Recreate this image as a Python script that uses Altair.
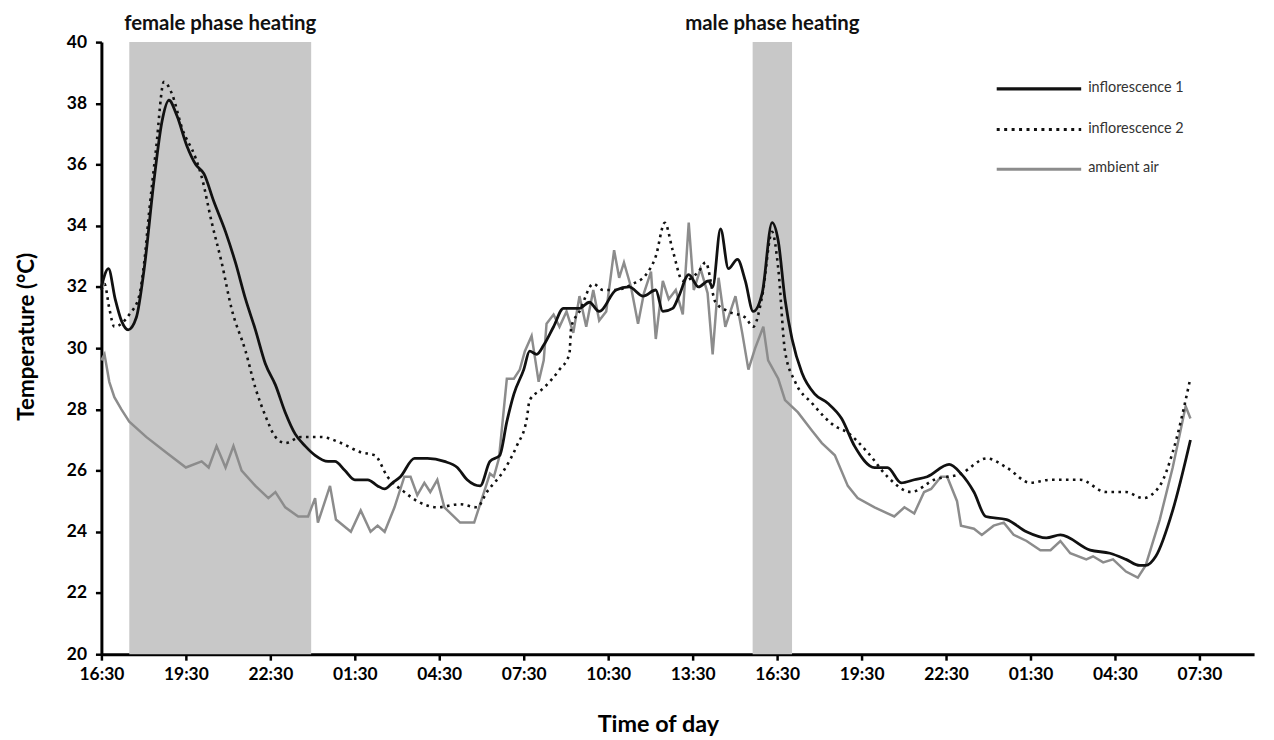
import altair as alt
import pandas as pd

# ---- data (hours since 16:30 on day 1, temperature in °C) ----
tick_labels = ["16:30", "19:30", "22:30", "01:30", "04:30", "07:30", "10:30",
               "13:30", "16:30", "19:30", "22:30", "01:30", "04:30", "07:30"]
tick_hours = [0, 3, 6, 9, 12, 15, 18, 21, 24, 27, 30, 33, 36, 39]

infl1_h = [0.0, 0.25, 0.49, 0.71, 0.95, 1.24, 1.52, 1.87, 2.15, 2.40, 2.68, 3.04, 3.35, 3.64,
           3.99, 4.41, 4.76, 5.12, 5.47, 5.82, 6.18, 6.53, 6.88, 7.24, 7.59, 8.05, 8.29, 8.65,
           9.0, 9.46, 9.81, 10.06, 10.34, 10.62, 11.12, 11.58, 12.18, 12.64, 12.99, 13.45, 13.8,
           14.15, 14.4, 14.65, 15.0, 15.21, 15.46, 15.71, 16.06, 16.41, 16.98, 17.33, 17.68,
           18.28, 18.74, 19.24, 19.69, 19.94, 20.29, 20.51, 20.86, 21.21, 21.56, 21.71, 21.99,
           22.27, 22.59, 22.87, 23.15, 23.47, 23.82, 24.04, 24.28, 24.53, 24.88, 25.34, 25.8,
           26.29, 26.75, 27.46, 27.92, 28.41, 28.87, 29.33, 30.11, 30.53, 30.99, 31.41, 32.15,
           32.86, 33.56, 34.06, 35.12, 35.82, 36.39, 36.88, 37.09, 37.45, 38.05, 38.68]
infl1_t = [32.0, 32.6, 31.6, 30.9, 30.6, 31.0, 32.6, 35.5, 37.4, 38.1, 37.6, 36.6, 36.0, 35.7,
           34.8, 33.8, 32.8, 31.6, 30.6, 29.5, 28.8, 27.9, 27.2, 26.8, 26.5, 26.3, 26.3, 26.0,
           25.7, 25.7, 25.5, 25.4, 25.6, 25.8, 26.4, 26.4, 26.3, 26.1, 25.7, 25.5, 26.3,
           26.5, 27.6, 28.5, 29.3, 29.9, 29.8, 30.1, 30.7, 31.3, 31.3, 31.5, 31.2,
           31.9, 32.0, 31.7, 31.9, 31.2, 31.3, 31.7, 32.4, 32.0, 32.2, 32.0, 33.9,
           32.6, 32.9, 32.2, 31.2, 31.8, 34.1, 33.5, 31.6, 30.3, 29.2, 28.5, 28.2,
           27.7, 26.8, 26.1, 26.1, 25.6, 25.7, 25.8, 26.2, 25.9, 25.3, 24.5, 24.4,
           24.0, 23.8, 23.9, 23.4, 23.3, 23.1, 22.9, 22.9, 23.2, 24.7, 27.0]

infl2_h = [0.0, 0.11, 0.28, 0.46, 0.71, 0.99, 1.34, 1.52, 1.69, 1.94, 2.22, 2.51, 2.86, 3.35,
           3.56, 3.92, 4.27, 4.62, 5.12, 5.47, 5.82, 6.18, 6.53, 7.09, 7.8, 8.51, 9.21, 9.71,
           10.16, 10.76, 11.22, 11.93, 12.74, 13.34, 13.69, 14.29, 14.75, 15.11, 15.21, 15.71,
           16.27, 16.62, 16.69, 16.98, 17.47, 17.82, 18.18, 18.88, 19.34, 19.69, 20.01, 20.29,
           20.65, 21.21, 21.46, 21.81, 22.27, 22.87, 23.15, 23.47, 23.82, 24.04, 24.28, 24.64,
           25.24, 26.15, 26.4, 27.21, 27.92, 28.76, 29.58, 30.53, 31.45, 32.15, 33.0, 33.71,
           34.76, 35.68, 36.39, 36.99, 37.59, 38.05, 38.65]
infl2_t = [31.9, 32.1, 31.3, 30.7, 30.8, 31.1, 31.7, 32.8, 34.4, 36.5, 38.7, 38.3, 37.2, 36.2,
           35.6, 34.1, 32.8, 31.3, 29.9, 28.7, 27.8, 27.1, 26.9, 27.1, 27.1, 26.9, 26.6, 26.5,
           25.8, 25.3, 25.0, 24.8, 24.9, 24.8, 25.3, 26.0, 26.8, 27.7, 28.3, 28.7,
           29.3, 29.8, 30.7, 31.2, 32.1, 31.9, 31.9, 32.1, 32.4, 33.0, 34.1, 33.2,
           32.2, 32.5, 32.8, 31.5, 31.2, 31.0, 30.7, 31.7, 33.8, 32.6, 29.9, 28.9,
           28.2, 27.4, 27.3, 26.6, 25.8, 25.3, 25.7, 25.9, 26.4, 26.1, 25.6, 25.7,
           25.7, 25.3, 25.3, 25.1, 25.5, 26.6, 28.9]

air_h = [0.0, 0.11, 0.28, 0.46, 0.71, 0.99, 1.59, 2.29, 3.0, 3.56, 3.81, 4.09, 4.41, 4.69,
         4.98, 5.47, 5.93, 6.18, 6.53, 6.99, 7.34, 7.59, 7.69, 8.12, 8.33, 8.86, 9.21, 9.56,
         9.81, 10.06, 10.41, 10.76, 10.98, 11.22, 11.47, 11.68, 11.93, 12.18, 12.74, 13.24,
         13.59, 13.8, 13.94, 14.12, 14.4, 14.65, 14.86, 15.04, 15.28, 15.53, 15.71, 15.81,
         16.06, 16.27, 16.52, 16.76, 16.98, 17.22, 17.47, 17.68, 17.93, 18.21, 18.39, 18.56,
         18.81, 19.06, 19.27, 19.52, 19.69, 19.94, 20.15, 20.4, 20.65, 20.86, 21.04, 21.28,
         21.53, 21.71, 21.92, 22.16, 22.52, 22.76, 22.98, 23.22, 23.51, 23.68, 24.04, 24.28,
         24.74, 25.24, 25.59, 26.05, 26.51, 26.86, 27.46, 27.92, 28.16, 28.52, 28.87, 29.22,
         29.47, 29.82, 30.04, 30.39, 30.53, 30.99, 31.27, 31.69, 32.05, 32.4, 32.86, 33.35,
         33.71, 34.06, 34.41, 34.98, 35.22, 35.58, 35.93, 36.39, 36.81, 37.09, 37.59, 38.05,
         38.51, 38.68]
air_t = [29.6, 29.8, 28.9, 28.4, 28.0, 27.6, 27.1, 26.6, 26.1, 26.3, 26.1, 26.8, 26.1, 26.8,
         26.0, 25.5, 25.1, 25.3, 24.8, 24.5, 24.5, 25.1, 24.3, 25.5, 24.4, 24.0, 24.7, 24.0,
         24.2, 24.0, 24.8, 25.8, 25.8, 25.2, 25.6, 25.3, 25.7, 24.8, 24.3, 24.3,
         25.3, 25.9, 25.8, 26.4, 29.0, 29.0, 29.3, 29.9, 30.4, 28.9, 29.6, 30.8,
         31.1, 30.7, 31.2, 30.5, 31.7, 30.7, 31.9, 30.9, 31.2, 33.2, 32.3, 32.8,
         32.0, 30.8, 31.8, 32.5, 30.3, 32.2, 31.6, 31.9, 31.1, 34.1, 31.9, 32.6,
         31.8, 29.8, 32.3, 30.7, 31.7, 30.5, 29.3, 30.0, 30.7, 29.6, 29.0, 28.3,
         27.9, 27.3, 26.9, 26.5, 25.5, 25.1, 24.8, 24.6, 24.5, 24.8, 24.6, 25.3,
         25.4, 25.8, 25.8, 25.0, 24.2, 24.1, 23.9, 24.2, 24.3, 23.9, 23.7, 23.4,
         23.4, 23.7, 23.3, 23.1, 23.2, 23.0, 23.1, 22.7, 22.5, 22.9, 24.4, 26.1,
         28.1, 27.7]

band_names = ["female phase heating", "male phase heating"]
band_start = [0.99, 23.13]
band_end = [7.45, 24.53]

series_names = ["inflorescence 1", "inflorescence 2", "ambient air"]

# ---- tables ----
df1 = pd.DataFrame({"h": infl1_h, "t": infl1_t})
df2 = pd.DataFrame({"h": infl2_h, "t": infl2_t})
dfa = pd.DataFrame({"h": air_h, "t": air_t})
dfb = pd.DataFrame({"name": band_names, "start": band_start, "end": band_end})
dfb["mid"] = (dfb["start"] + dfb["end"]) / 2

FONT = "Lato"
W, H = 1160, 616
label_expr = "[" + ",".join("'%s'" % s for s in tick_labels) + "][round(datum.value/3)]"

xscale = alt.Scale(domain=[0, 40.94], nice=False, zero=False)
yscale = alt.Scale(domain=[20, 40], nice=False, zero=False)

x_axis = alt.Axis(values=tick_hours, labelExpr=label_expr, title="Time of day",
                  grid=False, domainColor="black", domainWidth=3, tickColor="black",
                  tickWidth=2.5, tickSize=6, labelFont=FONT, labelFontSize=17.5,
                  labelFontWeight="bold", labelColor="black", labelPadding=5,
                  labelFlush=False, labelOverlap=False,
                  titleFont=FONT, titleFontSize=23.5, titleFontWeight="bold", titleColor="black",
                  titleX=560, titleY=71, titleBaseline="middle", titleAlign="center")
y_axis = alt.Axis(values=list(range(20, 41, 2)), title="Temperature (°C)", grid=False,
                  domainColor="black", domainWidth=3, tickColor="black", tickWidth=2.5,
                  tickSize=6, labelFont=FONT, labelFontSize=17.5, labelFontWeight="bold",
                  labelColor="black", labelPadding=9, labelFlush=False,
                  titleFont=FONT, titleFontSize=22.5, titleFontWeight="bold", titleColor="black",
                  titleX=-75, titleY=H / 2 - 12, titleAngle=-90, titleBaseline="middle",
                  titleAlign="center")

bands = alt.Chart(dfb).mark_rect(color="#c8c8c8").encode(
    x=alt.X("start:Q", scale=xscale, axis=x_axis),
    x2="end:Q",
    y=alt.value(0),
    y2=alt.value(H),
)

band_text = alt.Chart(dfb).mark_text(font=FONT, fontSize=20.5, fontWeight="bold",
                                     color="#111111", baseline="middle").encode(
    x=alt.X("mid:Q", scale=xscale),
    y=alt.value(-18),
    text="name:N",
)

air = alt.Chart(dfa).mark_line(color="#8c8c8c", strokeWidth=2.5).encode(
    x=alt.X("h:Q", scale=xscale),
    y=alt.Y("t:Q", scale=yscale, axis=y_axis),
)
i2 = alt.Chart(df2).mark_line(color="#111111", strokeWidth=2.6, strokeDash=[2.6, 4.4],
                              interpolate="monotone").encode(
    x=alt.X("h:Q", scale=xscale),
    y=alt.Y("t:Q", scale=yscale),
)
i1 = alt.Chart(df1).mark_line(color="#111111", strokeWidth=2.8,
                              interpolate="monotone").encode(
    x=alt.X("h:Q", scale=xscale),
    y=alt.Y("t:Q", scale=yscale),
)

# ---- manual legend ----
leg_styles = [
    dict(color="#111111", strokeWidth=3.2),
    dict(color="#111111", strokeWidth=3.0, strokeDash=[3, 4.5]),
    dict(color="#8c8c8c", strokeWidth=3.0),
]
leg_rows = [47, 88, 128]
legend_layers = []
for name, style, yy in zip(series_names, leg_styles, leg_rows):
    legend_layers.append(
        alt.Chart(pd.DataFrame({"s": [name]})).mark_rule(**style).encode(
            x=alt.value(901), x2=alt.value(986), y=alt.value(yy)))
    legend_layers.append(
        alt.Chart(pd.DataFrame({"s": [name]})).mark_text(
            font=FONT, fontSize=14.5, color="#333333", align="left",
            baseline="middle").encode(
            x=alt.value(993), y=alt.value(yy - 1), text="s:N"))

chart = alt.layer(bands, air, i2, i1, band_text, *legend_layers).properties(
    width=W, height=H,
    autosize=alt.AutoSizeParams(type="none"),
    padding={"left": 94, "top": 32, "right": 12, "bottom": 84},
).configure(background="white", view=alt.ViewConfig(strokeWidth=0, stroke="transparent"))

chart.save("out.html", embed_options={"renderer": "svg", "actions": False})
